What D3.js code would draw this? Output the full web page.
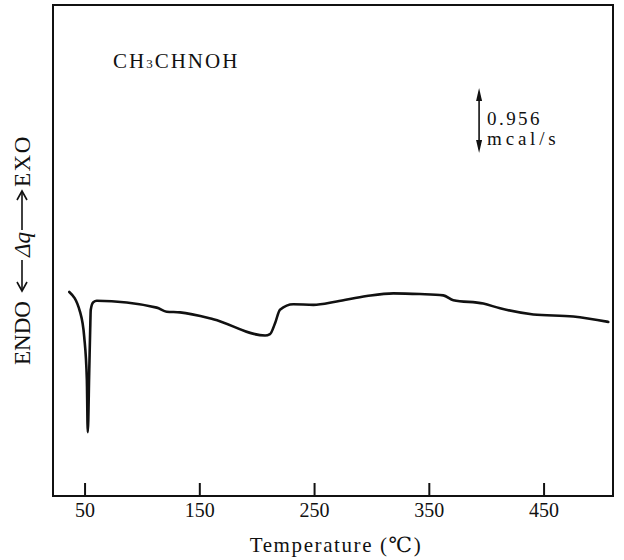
<!DOCTYPE html>
<html>
<head>
<meta charset="utf-8">
<script src="https://cdnjs.cloudflare.com/ajax/libs/d3/7.8.5/d3.min.js"></script>
<style>
    body { margin: 0; background: #fff; }
    svg { display: block; }
    text { font-family: "Liberation Serif", "DejaVu Serif", serif; fill: #111; }
</style>
</head>
<body>
<div id="chart"></div>
<script>

// DSC trace, temperature in degC, heat flow in mcal/s (arbitrary zero)
var temps = [36.7, 46.0, 49.7, 52.0, 52.8, 54.1, 54.9, 55.4, 57.6, 60.6,
             112.9, 121.6, 133.2, 162.2, 207.3, 211.6, 216.0, 220.3, 231.9, 249.4,
             269.7, 295.9, 319.1, 342.3, 362.6, 371.4, 397.5, 412.1, 441.1, 475.9, 506.4];
var heat  = [3.00, 2.71, 2.34, 1.71, 0.94, 1.85, 2.44, 2.74, 2.85, 2.87,
             2.77, 2.71, 2.70, 2.60, 2.36, 2.38, 2.54, 2.74, 2.82, 2.81,
             2.86, 2.94, 2.98, 2.97, 2.95, 2.88, 2.83, 2.76, 2.67, 2.64, 2.56];

var xTicks = [50, 150, 250, 350, 450];
var xDomain = [22.5, 510.5];
var yDomain = [0, 7.22];

var compound = ["CH", "3", "CHNOH"];
var scaleValue = 0.956;
var scaleLabel = ["0.956", "mcal/s"];
var xLabel = "Temperature (\u2103)";

var w = 624, h = 560;
var margin = {top: 5, right: 11, bottom: 64, left: 53}
    , width = w - margin.left - margin.right
    , height = h - margin.top - margin.bottom;

var svg = d3.select("#chart")
    .append("svg")
    .attr("width", w)
    .attr("height", h);

var g = svg.append("g")
    .attr("transform", "translate(" + margin.left + "," + margin.top + ")");

var x = d3.scaleLinear().domain(xDomain).range([0, width]);
var y = d3.scaleLinear().domain(yDomain).range([height, 0]);

// inward ticks on the bottom edge only
var xAxis = d3.axisBottom(x)
    .tickValues(xTicks)
    .tickSizeInner(-13)
    .tickSizeOuter(0)
    .tickPadding(7)
    .tickFormat(d3.format("d"));

var ax = g.append("g")
    .attr("transform", "translate(0," + height + ")")
    .call(xAxis);
ax.select(".domain").remove();
ax.selectAll(".tick line").attr("stroke", "#111").attr("stroke-width", 2);
ax.selectAll(".tick text")
    .style("font-family", "Liberation Serif")
    .style("font-size", "20px")
    .attr("fill", "#111");

// frame
g.append("rect")
    .attr("width", width)
    .attr("height", height)
    .attr("fill", "none")
    .attr("stroke", "#111")
    .attr("stroke-width", 2);

// trace
var pts = temps.map(function(t, i) { return {t: t, v: heat[i]}; });
var line = d3.line()
    .x(d => x(d.t))
    .y(d => y(d.v))
    .curve(d3.curveMonotoneX);

g.append("path")
    .attr("d", line(pts))
    .attr("fill", "none")
    .attr("stroke", "#111")
    .attr("stroke-width", 2.6)
    .attr("stroke-linejoin", "round")
    .attr("stroke-linecap", "round");

// compound name
var title = svg.append("text")
    .attr("x", 113)
    .attr("y", 68)
    .style("font-size", "21px")
    .style("letter-spacing", "2px");
title.append("tspan").text(compound[0]);
title.append("tspan").style("font-size", "13px").text(compound[1]);
title.append("tspan").text(compound[2]);

// scale bar
var barT = 393.8, barTop = 6.0;
var bx = x(barT), by0 = y(barTop), by1 = y(barTop - scaleValue);
var sb = g.append("g");
sb.append("line")
    .attr("x1", bx).attr("x2", bx)
    .attr("y1", by0 + 6).attr("y2", by1 - 6)
    .attr("stroke", "#111").attr("stroke-width", 1.6);
sb.append("path")
    .attr("d", "M" + bx + "," + by0 + "l-3,13l6,0z")
    .attr("fill", "#111");
sb.append("path")
    .attr("d", "M" + bx + "," + by1 + "l-3,-13l6,0z")
    .attr("fill", "#111");
sb.selectAll("text")
    .data(scaleLabel)
    .enter()
    .append("text")
    .attr("x", bx + 8)
    .attr("y", (d, i) => 120 + i * 20)
    .style("font-size", "19px")
    .style("letter-spacing", (d, i) => i ? "3.8px" : "2.4px")
    .text(d => d);

// x label
svg.append("text")
    .attr("x", 336)
    .attr("y", 552)
    .attr("text-anchor", "middle")
    .style("font-size", "21px")
    .style("letter-spacing", "1.6px")
    .text(xLabel);

// y label: ENDO <-- dq --> EXO, rotated
var yl = svg.append("g")
    .attr("transform", "translate(30,247) rotate(-90)");
yl.append("text")
    .attr("x", -118)
    .style("font-size", "23px")
    .text("ENDO");
yl.append("text")
    .attr("x", -10)
    .style("font-size", "23px")
    .style("font-style", "italic")
    .text("\u0394q");
yl.append("text")
    .attr("x", 60)
    .style("font-size", "23px")
    .style("letter-spacing", "1.5px")
    .text("EXO");

function arrow(from, to) {
    var dir = to > from ? 1 : -1;
    yl.append("line")
        .attr("x1", from).attr("x2", to)
        .attr("y1", -8).attr("y2", -8)
        .attr("stroke", "#111").attr("stroke-width", 1.6);
    yl.append("path")
        .attr("d", "M" + (to - dir * 9) + ",-13L" + to + ",-8L" + (to - dir * 9) + ",-3")
        .attr("fill", "none")
        .attr("stroke", "#111").attr("stroke-width", 1.6);
}
arrow(-13, -44);
arrow(17, 56);

</script>
</body>
</html>
